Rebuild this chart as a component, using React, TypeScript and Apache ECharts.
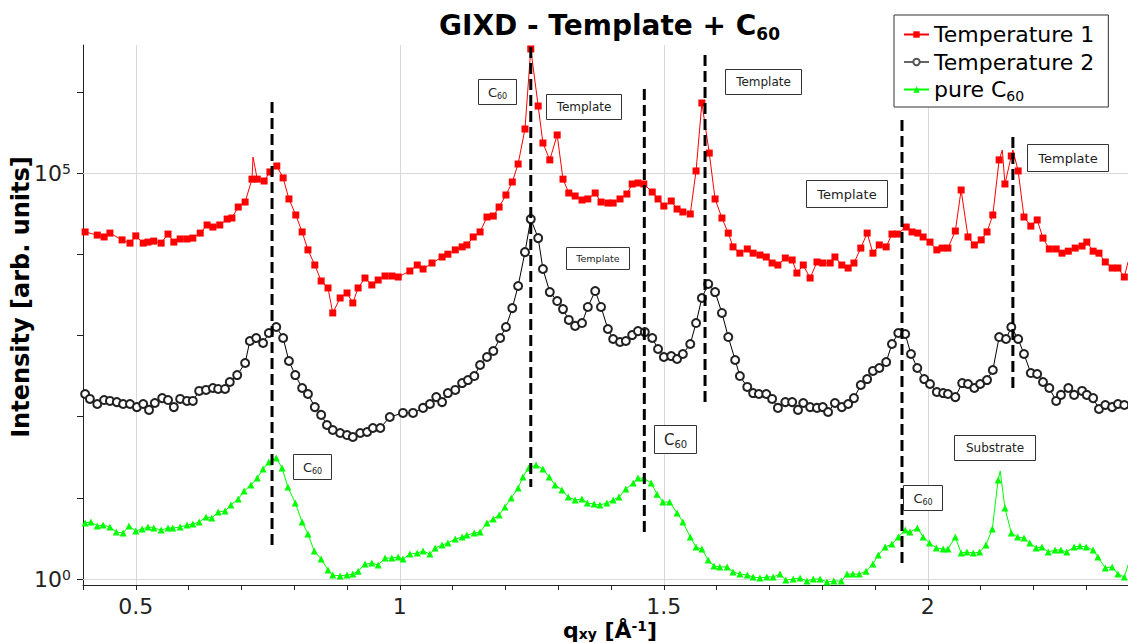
import React, { useEffect, useRef } from "react";
import * as echarts from "echarts";

const FONT = "DejaVu Sans";

// q_xy [1/Å], intensity [arb. units]
const temp1: [number, number][] = [
  [0.404, 1.88e4], [0.427, 1.72e4], [0.44, 1.63e4], [0.451, 1.82e4], [0.474, 1.5e4], [0.489, 1.37e4],
  [0.5, 1.68e4], [0.514, 1.37e4], [0.523, 1.41e4], [0.534, 1.45e4], [0.548, 1.37e4], [0.561, 1.77e4],
  [0.572, 1.41e4], [0.584, 1.54e4], [0.597, 1.54e4], [0.608, 1.58e4], [0.622, 1.82e4], [0.635, 2.29e4],
  [0.646, 2.16e4], [0.659, 2.29e4], [0.673, 2.71e4], [0.682, 2.79e4], [0.694, 3.81e4], [0.707, 4.39e4],
  [0.72, 8.4e4], [0.722, 1.57e5], [0.73, 8.4e4], [0.743, 7.97e4], [0.754, 1.03e5], [0.767, 1.22e5],
  [0.779, 8.7e4], [0.79, 4.79e4], [0.803, 3.04e4], [0.815, 1.88e4], [0.826, 1.13e4], [0.839, 7360],
  [0.851, 4680], [0.864, 3840], [0.873, 1890], [0.887, 2890], [0.9, 3330], [0.911, 2510],
  [0.921, 3840], [0.934, 5090], [0.947, 4180], [0.959, 4810], [0.972, 5390], [0.985, 5390],
  [0.997, 5240], [1.019, 6210], [1.033, 7360], [1.044, 6570], [1.061, 7790], [1.08, 9240],
  [1.091, 1.0e4], [1.105, 1.13e4], [1.118, 1.23e4], [1.127, 1.3e4], [1.139, 1.63e4], [1.152, 1.88e4],
  [1.165, 2.87e4], [1.177, 2.95e4], [1.188, 3.81e4], [1.201, 5.36e4], [1.213, 7.75e4], [1.224, 1.29e5],
  [1.237, 3.48e5], [1.248, 3.37e6], [1.262, 6.68e5], [1.271, 2.34e5], [1.284, 1.45e5], [1.298, 2.94e5],
  [1.309, 8.4e4], [1.32, 5.67e4], [1.332, 5.21e4], [1.345, 4.65e4], [1.356, 4.79e4], [1.37, 5.67e4],
  [1.381, 4.39e4], [1.394, 4.27e4], [1.404, 4.27e4], [1.417, 4.79e4], [1.43, 5.51e4], [1.44, 7.32e4],
  [1.451, 7.53e4], [1.462, 7.32e4], [1.478, 5.83e4], [1.489, 4.79e4], [1.5, 3.92e4], [1.514, 4.52e4],
  [1.525, 3.6e4], [1.536, 3.31e4], [1.55, 3.13e4], [1.561, 1.06e5], [1.572, 7.28e5], [1.586, 1.76e5],
  [1.597, 4.79e4], [1.61, 2.79e4], [1.622, 1.82e4], [1.631, 1.23e4], [1.644, 1.03e4], [1.658, 1.16e4],
  [1.669, 1.03e4], [1.682, 9770], [1.694, 9240], [1.705, 7790], [1.716, 7360], [1.73, 8980],
  [1.743, 8490], [1.752, 5860], [1.764, 7360], [1.777, 5090], [1.79, 8020], [1.801, 7790],
  [1.815, 7790], [1.824, 9240], [1.837, 7360], [1.849, 6760], [1.86, 7790], [1.873, 1.19e4],
  [1.885, 1.82e4], [1.896, 1.03e4], [1.908, 1.3e4], [1.921, 1.23e4], [1.932, 1.77e4], [1.942, 1.77e4],
  [1.959, 2.16e4], [1.97, 1.88e4], [1.981, 1.82e4], [1.991, 1.63e4], [2.004, 1.41e4], [2.017, 1.13e4],
  [2.027, 1.19e4], [2.038, 1.19e4], [2.052, 1.93e4], [2.063, 6.18e4], [2.076, 1.63e4], [2.088, 1.3e4],
  [2.101, 1.5e4], [2.112, 1.88e4], [2.123, 3.04e4], [2.135, 1.45e5], [2.141, 1.92e5], [2.146, 7.32e4],
  [2.158, 1.62e5], [2.161, 1.92e5], [2.171, 1.06e5], [2.182, 2.87e4], [2.195, 2.22e4], [2.207, 2.64e4],
  [2.218, 1.58e4], [2.23, 1.16e4], [2.243, 1.16e4], [2.254, 1.03e4], [2.266, 1.09e4], [2.279, 1.19e4],
  [2.292, 1.26e4], [2.301, 1.41e4], [2.313, 1.09e4], [2.324, 1.03e4], [2.336, 8020], [2.349, 6760],
  [2.36, 6760], [2.372, 5240], [2.379, 8020],
];
const temp1Unmarked = [0.722, 2.141, 2.161, 2.379];

const temp2: [number, number][] = [
  [0.404, 190], [0.413, 165], [0.427, 143], [0.44, 160], [0.451, 156], [0.464, 151], [0.476, 143],
  [0.489, 143], [0.502, 131], [0.514, 143], [0.525, 121], [0.536, 147], [0.55, 169], [0.561, 160],
  [0.572, 131], [0.584, 165], [0.597, 156], [0.608, 156], [0.62, 207], [0.633, 213], [0.646, 225],
  [0.656, 219], [0.669, 219], [0.678, 267], [0.692, 325], [0.707, 457], [0.716, 853], [0.728, 929],
  [0.741, 806], [0.752, 1070], [0.766, 1270], [0.779, 929], [0.79, 484], [0.802, 325], [0.815, 225],
  [0.826, 190], [0.839, 131], [0.851, 105], [0.862, 78.8], [0.873, 68.4], [0.887, 62.8], [0.9, 59.3],
  [0.911, 56.1], [0.925, 62.8], [0.938, 64.6], [0.949, 72.4], [0.963, 72.4], [0.981, 98.9], [1.006, 111],
  [1.025, 111], [1.044, 128], [1.057, 143], [1.069, 174], [1.08, 151], [1.091, 195], [1.105, 213],
  [1.118, 259], [1.129, 282], [1.141, 316], [1.152, 432], [1.165, 542], [1.177, 643], [1.19, 929],
  [1.201, 1270], [1.213, 2170], [1.224, 4060], [1.237, 1.06e4], [1.248, 2.71e4], [1.262, 1.58e4],
  [1.271, 6570], [1.284, 3420], [1.298, 2650], [1.309, 2110], [1.32, 1550], [1.332, 1310], [1.345, 1420],
  [1.356, 2240], [1.37, 3520], [1.381, 2240], [1.394, 1200], [1.404, 903], [1.417, 830], [1.428, 853],
  [1.44, 1010], [1.451, 1130], [1.464, 1100], [1.478, 929], [1.489, 680], [1.5, 542], [1.514, 557],
  [1.525, 512], [1.536, 590], [1.55, 784], [1.561, 1420], [1.572, 2890], [1.584, 4300], [1.597, 3420],
  [1.61, 1890], [1.622, 955], [1.635, 498], [1.644, 316], [1.658, 232], [1.669, 195], [1.68, 190],
  [1.694, 190], [1.705, 165], [1.716, 128], [1.73, 151], [1.743, 151], [1.754, 121], [1.764, 147],
  [1.777, 131], [1.79, 128], [1.801, 131], [1.811, 114], [1.824, 147], [1.837, 131], [1.849, 143],
  [1.86, 169], [1.873, 245], [1.885, 290], [1.896, 365], [1.908, 397], [1.921, 470], [1.932, 784],
  [1.944, 1070], [1.957, 1040], [1.968, 590], [1.98, 397], [1.993, 290], [2.004, 252], [2.017, 201],
  [2.029, 195], [2.038, 190], [2.052, 174], [2.065, 259], [2.076, 252], [2.088, 225], [2.099, 252],
  [2.112, 282], [2.123, 375], [2.135, 955], [2.148, 903], [2.158, 1270], [2.171, 903], [2.182, 590],
  [2.195, 344], [2.207, 335], [2.218, 267], [2.23, 225], [2.243, 156], [2.252, 185], [2.266, 225],
  [2.277, 185], [2.292, 207], [2.301, 185], [2.313, 169], [2.324, 124], [2.336, 139], [2.349, 131],
  [2.36, 143], [2.372, 139],
];

const pureC60: [number, number][] = [
  [0.404, 4.9], [0.415, 5.04], [0.427, 4.5], [0.438, 4.62], [0.451, 4.37], [0.463, 3.79], [0.476, 3.69],
  [0.487, 4.5], [0.5, 3.9], [0.512, 4.13], [0.523, 4.37], [0.534, 4.25], [0.548, 4.01], [0.561, 4.25],
  [0.57, 4.25], [0.584, 4.37], [0.597, 4.62], [0.608, 4.76], [0.62, 5.04], [0.633, 5.8], [0.644, 5.64],
  [0.656, 6.68], [0.669, 6.88], [0.68, 8.15], [0.694, 9.67], [0.705, 12.1], [0.718, 14.4], [0.73, 17.5],
  [0.741, 22.6], [0.752, 27.6], [0.766, 30.9], [0.777, 23.3], [0.788, 13.6], [0.802, 8.63], [0.815, 5.04],
  [0.826, 3.58], [0.838, 2.21], [0.851, 1.76], [0.864, 1.29], [0.873, 1.12], [0.887, 1.09], [0.9, 1.12],
  [0.911, 1.15], [0.921, 1.25], [0.934, 1.53], [0.947, 1.57], [0.959, 1.49], [0.972, 1.81], [0.985, 1.81],
  [0.997, 1.87], [1.006, 1.76], [1.019, 2.03], [1.033, 2.09], [1.044, 2.21], [1.057, 2.03], [1.067, 2.41],
  [1.08, 2.62], [1.091, 2.78], [1.105, 3.11], [1.118, 3.29], [1.127, 3.48], [1.141, 3.69], [1.152, 3.79],
  [1.165, 4.9], [1.177, 5.48], [1.188, 6.14], [1.199, 7.7], [1.211, 9.95], [1.224, 13.2], [1.233, 18.0],
  [1.244, 23.3], [1.258, 25.4], [1.271, 22.6], [1.283, 18.0], [1.294, 14.4], [1.307, 12.5], [1.319, 10.2],
  [1.332, 9.4], [1.345, 9.67], [1.355, 8.63], [1.368, 8.39], [1.379, 8.15], [1.392, 8.63], [1.404, 9.4],
  [1.415, 10.2], [1.428, 12.8], [1.442, 15.2], [1.451, 17.5], [1.462, 17.5], [1.476, 15.2], [1.487, 11.1],
  [1.498, 8.87], [1.511, 8.87], [1.525, 6.5], [1.536, 5.04], [1.55, 3.29], [1.561, 2.48], [1.572, 2.34],
  [1.584, 1.71], [1.595, 1.45], [1.606, 1.41], [1.62, 1.41], [1.631, 1.22], [1.644, 1.15], [1.658, 1.12],
  [1.669, 1.06], [1.682, 1.03], [1.695, 1.06], [1.707, 1.06], [1.72, 1.15], [1.731, 0.97], [1.745, 1.0],
  [1.758, 1.03], [1.771, 0.945], [1.783, 1.0], [1.796, 1.0], [1.809, 0.918], [1.822, 0.945], [1.836, 0.945],
  [1.847, 1.15], [1.858, 1.15], [1.87, 1.15], [1.883, 1.25], [1.896, 1.53], [1.906, 1.98], [1.919, 2.48],
  [1.932, 2.7], [1.944, 3.29], [1.957, 4.01], [1.966, 3.79], [1.98, 4.25], [1.991, 3.29], [2.003, 2.78],
  [2.016, 2.41], [2.029, 2.34], [2.038, 2.34], [2.052, 3.29], [2.063, 2.09], [2.074, 2.15], [2.086, 2.09],
  [2.098, 2.15], [2.11, 2.62], [2.122, 4.13], [2.133, 16.6], [2.137, 21.4], [2.146, 7.48], [2.158, 3.69],
  [2.17, 3.29], [2.182, 3.2], [2.193, 2.78], [2.205, 2.41], [2.216, 2.48], [2.228, 2.15], [2.241, 2.28],
  [2.252, 2.28], [2.263, 2.15], [2.277, 2.48], [2.288, 2.55], [2.3, 2.48], [2.313, 2.28], [2.322, 1.87],
  [2.336, 1.37], [2.349, 1.41], [2.36, 1.15], [2.372, 1.06], [2.379, 1.49],
];
const pureC60Unmarked = [2.137, 2.379];

// dashed peak guides
const guideQ = [0.758, 1.248, 1.463, 1.578, 1.951, 2.161];
const guideTop = [7.49e5, 3.56e6, 1.08e6, 2.84e6, 4.5e5, 2.77e5];
const guideBottom = [2.62, 13.6, 3.69, 143, 1.57, 195];

// axes
const xTicks = [0.4, 0.5, 0.6, 0.7, 0.8, 0.9, 1.0, 1.1, 1.2, 1.3, 1.4, 1.5, 1.6, 1.7, 1.8, 1.9, 2.0, 2.1, 2.2, 2.3];
const xLabels = [0.5, 1, 1.5, 2];
const yTicks = [1, 10, 100, 1000, 1e4, 1e5, 1e6];
const yLabels = [1, 1e5];

const seriesNames = ["Temperature 1", "Temperature 2", "pure C60"];

// annotation boxes (label text, optional subscript)
const annotations = [
  { t: "C", sub: "60", x: 478, y: 79, w: 38, h: 25, fs: 13, sfs: 8 },
  { t: "Template", x: 546, y: 94, w: 75, h: 25, fs: 12 },
  { t: "Template", x: 725, y: 69, w: 76, h: 25, fs: 12 },
  { t: "Template", x: 806, y: 180, w: 81, h: 27, fs: 13 },
  { t: "Template", x: 1027, y: 144, w: 81, h: 27, fs: 13 },
  { t: "Template", x: 566, y: 247, w: 63, h: 22, fs: 9.5 },
  { t: "C", sub: "60", x: 654, y: 425, w: 42, h: 28, fs: 15, sfs: 10 },
  { t: "C", sub: "60", x: 293, y: 454, w: 38, h: 25, fs: 13, sfs: 8 },
  { t: "C", sub: "60", x: 903, y: 485, w: 39, h: 25, fs: 13, sfs: 8 },
  { t: "Substrate", x: 954, y: 435, w: 81, h: 25, fs: 12 },
];

function toData(pts: [number, number][], unmarked: number[]) {
  return pts.map(([q, v]) =>
    unmarked.indexOf(q) >= 0 ? { value: [q, v], symbol: "none" } : [q, v]
  );
}

function buildOption(): any {
  const graphics: any[] = [];
  graphics.push({
    type: "text",
    x: 21,
    y: 297,
    rotation: Math.PI / 2,
    z: 100,
    style: {
      text: "Intensity [arb. units]",
      fontSize: 24,
      fontWeight: "bold",
      fontFamily: FONT,
      fill: "#000",
      align: "center",
      verticalAlign: "middle",
    },
  });
  graphics.push({
    type: "text",
    x: 610,
    y: 630,
    z: 100,
    style: {
      text: "{q|q}{s|xy}{q| [Å}{p|-1}{q|]}",
      align: "center",
      verticalAlign: "middle",
      rich: {
        q: { fontSize: 22, fontWeight: "bold", fontFamily: FONT, fill: "#000", color: "#000", lineHeight: 22 },
        s: { fontSize: 14, fontWeight: "bold", fontFamily: FONT, fill: "#000", color: "#000", lineHeight: 10, verticalAlign: "bottom" },
        p: { fontSize: 14, fontWeight: "bold", fontFamily: FONT, fill: "#000", color: "#000", lineHeight: 10, verticalAlign: "top" },
      },
    },
  });
  annotations.forEach((a) => {
    const text = a.sub ? `{m|${a.t}}{s|${a.sub}}` : `{m|${a.t}}`;
    graphics.push({
      type: "group",
      z: 100,
      children: [
        {
          type: "rect",
          z: 100,
          shape: { x: a.x + 0.5, y: a.y + 0.5, width: a.w, height: a.h },
          style: { fill: "#fff", stroke: "#333", lineWidth: 1 },
        },
        {
          type: "text",
          z: 101,
          x: a.x + a.w / 2 + 0.5,
          y: a.y + a.h / 2 + 0.5,
          style: {
            text,
            align: "center",
            verticalAlign: "middle",
            rich: {
              m: { fontSize: a.fs, fontFamily: FONT, fill: "#222", color: "#222", lineHeight: a.fs + 4 },
              s: { fontSize: a.sfs || 8, fontFamily: FONT, fill: "#222", color: "#222", lineHeight: a.sfs || 8, verticalAlign: "bottom" },
            },
          },
        },
      ],
    });
  });

  const guideSeries = guideQ.map((q, i) => ({
    type: "line",
    name: "guide" + i,
    data: [[q, guideTop[i]], [q, guideBottom[i]]],
    symbol: "none",
    silent: true,
    z: 5,
    lineStyle: { color: "#000", width: 3, type: [11, 5] },
  }));

  return {
    animation: false,
    backgroundColor: "#fff",
    textStyle: { fontFamily: FONT },
    title: {
      text: "{m|GIXD - Template + C}{s|60}",
      left: 439,
      top: 8,
      padding: 0,
      textStyle: {
        rich: {
          m: { fontSize: 28, fontWeight: "bold", color: "#000", lineHeight: 34, fontFamily: FONT },
          s: { fontSize: 17, fontWeight: "bold", color: "#000", lineHeight: 17, verticalAlign: "bottom", fontFamily: FONT },
        },
      },
    },
    grid: { left: 83, right: 0, top: 45, bottom: 58, containLabel: false, outerBoundsMode: "none" },
    legend: {
      data: [
        { name: seriesNames[0] },
        { name: seriesNames[1], itemStyle: { color: "#555", borderColor: "#555", borderWidth: 1 }, lineStyle: { color: "#666" } },
        { name: seriesNames[2] },
      ],
      orient: "vertical",
      left: 894,
      top: 15,
      padding: [6, 14, 4, 9],
      itemGap: 0.5,
      itemWidth: 25,
      itemHeight: 8,
      backgroundColor: "#fff",
      borderColor: "#333",
      borderWidth: 1,
      borderRadius: 0,
      selectedMode: false,
      formatter: (name: string) => (name === "pure C60" ? "pure C{s|60}" : name),
      textStyle: {
        fontSize: 22,
        color: "#000",
        lineHeight: 27,
        fontFamily: FONT,
        rich: {
          s: { fontSize: 14, color: "#000", lineHeight: 14, verticalAlign: "bottom", fontFamily: FONT },
        },
      },
    },
    xAxis: {
      type: "value",
      min: 0.4,
      max: 2.379,
      interval: 0.1,
      axisLine: { show: true, onZero: false, lineStyle: { color: "#222", width: 1 } },
      axisTick: { show: true, length: 5, inside: false, customValues: xTicks, lineStyle: { color: "#222" } },
      axisLabel: {
        customValues: xLabels,
        margin: 10,
        fontSize: 22,
        lineHeight: 22,
        color: "#222",
        fontFamily: FONT,
        formatter: (v: number) =>
          xLabels.some((t) => Math.abs(t - v) < 1e-6) ? String(Math.round(v * 10) / 10) : "",
      },
      splitLine: { show: false },
    },
    yAxis: {
      type: "log",
      logBase: 10,
      min: 0.844,
      max: 3.77e6,
      axisLine: { show: true, onZero: false, lineStyle: { color: "#222", width: 1 } },
      axisTick: { show: true, length: 6, inside: false, customValues: yTicks, lineStyle: { color: "#222" } },
      minorTick: { show: false },
      axisLabel: {
        customValues: yLabels,
        margin: 12,
        formatter: (v: number) => {
          const l = Math.log10(v);
          const e = Math.round(l);
          if (Math.abs(l - e) > 0.01 || (e !== 0 && e !== 5)) return "";
          return `{b|10}{e|${e}}`;
        },
        rich: {
          b: { fontSize: 22, color: "#222", lineHeight: 22, fontFamily: FONT },
          e: { fontSize: 14, color: "#222", lineHeight: 12, verticalAlign: "top", fontFamily: FONT },
        },
      },
      splitLine: { show: false },
    },
    graphic: graphics,
    series: [
      {
        type: "line",
        name: "gridlines",
        data: [],
        silent: true,
        z: 1,
        markLine: {
          silent: true,
          z: 1,
          symbol: ["none", "none"],
          label: { show: false },
          lineStyle: { color: "#d9d9d9", width: 1, type: "solid" },
          data: [
            ...xLabels.map((v) => ({ xAxis: v })),
            ...yLabels.map((v) => ({ yAxis: v })),
          ],
        },
      },
      {
        type: "line",
        name: seriesNames[0],
        data: toData(temp1, temp1Unmarked),
        symbol: "rect",
        symbolSize: 7,
        showSymbol: true,
        z: 3,
        lineStyle: { color: "#ff0000", width: 1 },
        itemStyle: { color: "#ff0000" },
      },
      {
        type: "line",
        name: seriesNames[1],
        data: temp2,
        symbol: "emptyCircle",
        symbolSize: 8,
        showSymbol: true,
        z: 3,
        lineStyle: { color: "#000", width: 1 },
        itemStyle: { color: "#222", borderWidth: 0.8 },
      },
      {
        type: "line",
        name: seriesNames[2],
        data: toData(pureC60, pureC60Unmarked),
        symbol: "triangle",
        symbolSize: 7,
        showSymbol: true,
        z: 3,
        lineStyle: { color: "#00ff00", width: 1 },
        itemStyle: { color: "#00ff00" },
      },
      ...guideSeries,
    ],
  };
}

export default function App() {
  const ref = useRef<HTMLDivElement>(null);
  useEffect(() => {
    if (!ref.current) return;
    const chart = echarts.init(ref.current, undefined, { renderer: "svg" });
    chart.setOption(buildOption());
    return () => chart.dispose();
  }, []);
  return (
    <div
      ref={ref}
      style={{ position: "fixed", left: 0, top: 0, width: 1128, height: 643, background: "#fff" }}
    />
  );
}
